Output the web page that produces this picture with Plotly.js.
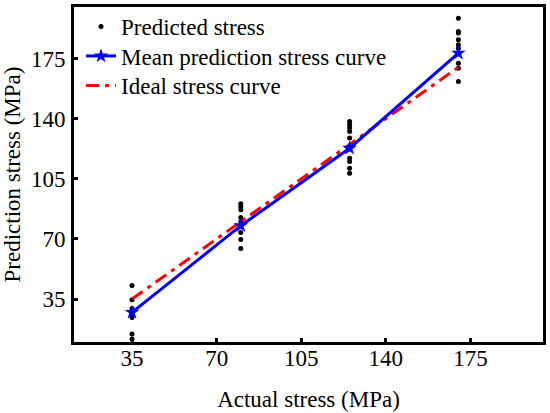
<!DOCTYPE html>
<html>
<head>
<meta charset="utf-8">
<script src="https://cdn.plot.ly/plotly-3.0.1.min.js"></script>
<style>html,body{margin:0;padding:0;background:#fff;}#chart{width:550px;height:413px;}</style>
</head>
<body>
<div id="chart"></div>
<script>
// Actual stress levels (MPa)
const actualStress = [35, 80, 125, 170];
// Predicted stress samples at each actual level (MPa)
const pred35  = [42.9, 34.6, 29.5, 24.3, 14.7, 11.8];
const pred80  = [90.5, 88.8, 87.0, 82.4, 80.0, 77.7, 73.7, 69.6, 64.4];
const pred125 = [138.3, 136.4, 134.5, 132.5, 128.7, 122.8, 117.0, 115.0, 111.2, 108.3];
const pred170 = [198.5, 190.7, 189.8, 185.9, 183.0, 181.0, 178.1, 172.3, 169.4, 161.6];
// Mean prediction curve (MPa)
const meanPrediction = [27.2, 77.7, 122.8, 178.1];
// Ideal curve (MPa)
const idealStress = [35, 80, 125, 170];
// Tick values
const tickVals = [35, 70, 105, 140, 175];

const groups = [pred35, pred80, pred125, pred170];
const px = [], py = [];
groups.forEach((g, i) => g.forEach(v => { px.push(actualStress[i]); py.push(v); }));

const FONT = '"Liberation Serif", "Times New Roman", serif';

const traces = [
  {
    x: px, y: py, type: 'scatter', mode: 'markers', name: 'Predicted stress',
    marker: {color: '#000', size: 5}, legendrank: 1
  },
  {
    x: actualStress, y: idealStress, type: 'scatter', mode: 'lines', name: 'Ideal stress curve',
    line: {color: '#ff0000', width: 3, dash: '13px,6px,4px,6px'}, legendrank: 3
  },
  {
    x: actualStress, y: meanPrediction, type: 'scatter', mode: 'lines+markers', name: 'Mean prediction stress curve',
    line: {color: '#0000ff', width: 3}, marker: {symbol: 'star', size: 11, color: '#0000ff'},
    legendrank: 2
  }
];

const axisCommon = {
  showgrid: false, zeroline: false, showline: true, mirror: true,
  linecolor: '#000', linewidth: 3, ticks: 'inside', ticklen: 4, tickwidth: 3, tickcolor: '#000',
  tickvals: tickVals, tickfont: {family: FONT, size: 23, color: '#000'}
};

const layout = {
  width: 550, height: 413,
  margin: {l: 74, r: 7, t: 7, b: 71},
  paper_bgcolor: '#fff', plot_bgcolor: '#fff',
  showlegend: true,
  legend: {
    x: 0.015, y: 1.0, xanchor: 'left', yanchor: 'top',
    bgcolor: 'rgba(0,0,0,0)', font: {family: FONT, size: 23, color: '#000'},
    traceorder: 'normal'
  },
  xaxis: Object.assign({}, axisCommon, {
    range: [11, 205], ticklabelstandoff: -7,
    title: {text: 'Actual stress (MPa)', font: {family: FONT, size: 23, color: '#000'}, standoff: 22}
  }),
  yaxis: Object.assign({}, axisCommon, {
    range: [10, 205], ticklabelstandoff: 1,
    title: {text: 'Prediction stress (MPa)', font: {family: FONT, size: 23, color: '#000'}, standoff: 9}
  })
};

Plotly.newPlot('chart', traces, layout, {displayModeBar: false, staticPlot: true}).then(gd => {
  // tighten legend row spacing to match the reference
  const items = gd.querySelectorAll('.legend .traces');
  const spacing = 29.5;
  let y0 = null;
  items.forEach((el, i) => {
    const m = /translate\(([-\d.]+),\s*([-\d.]+)\)/.exec(el.getAttribute('transform') || '');
    if (!m) return;
    const tx = parseFloat(m[1]), ty = parseFloat(m[2]);
    if (y0 === null) y0 = ty - 2;
    el.setAttribute('transform', 'translate(' + tx + ',' + (y0 + i * spacing) + ')');
  });
});
</script>
</body>
</html>
